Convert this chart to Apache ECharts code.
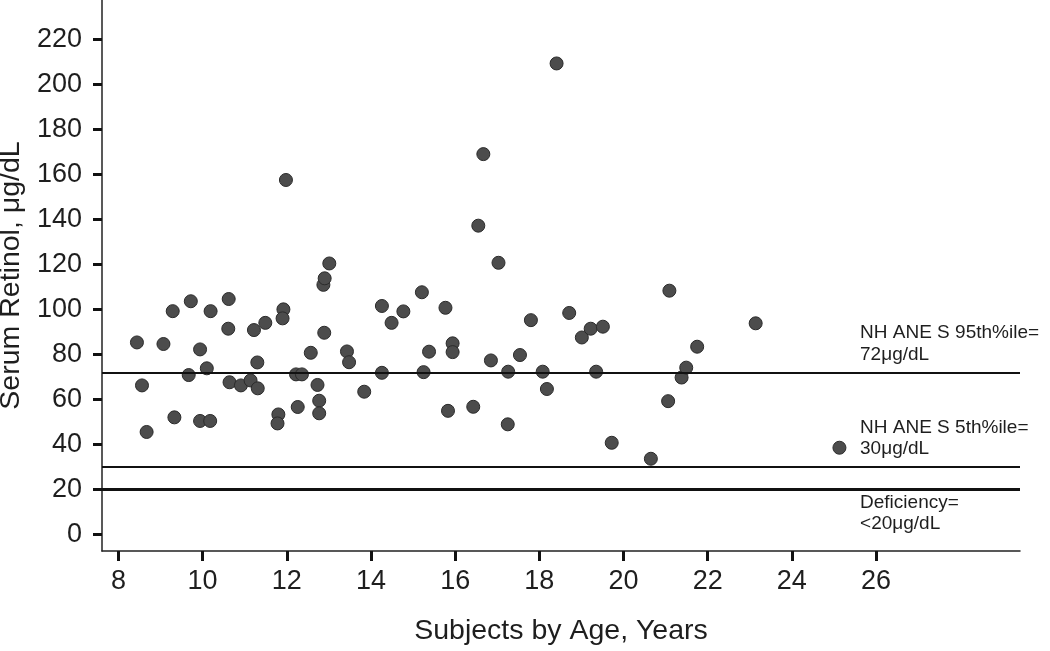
<!DOCTYPE html>
<html>
<head>
<meta charset="utf-8">
<script src="https://cdn.jsdelivr.net/npm/echarts@6/dist/echarts.min.js"></script>
<style>
html,body{margin:0;padding:0;background:#fff;}
#c{width:1050px;height:651px;}
</style>
</head>
<body>
<div id="c"></div>
<script>
// ---- data ----
const ages = [8.44,8.56,8.67,9.07,9.29,9.33,9.72,9.67,9.94,9.94,10.10,10.19,10.18,10.62,10.61,10.64,10.91,11.14,11.22,11.30,11.31,11.49,11.80,11.78,11.92,11.90,11.98,12.26,12.22,12.36,12.57,12.73,12.77,12.77,12.89,12.87,12.90,13.01,13.43,13.48,13.84,14.26,14.26,14.49,14.77,15.21,15.25,15.38,15.77,15.83,15.94,15.94,16.43,16.55,16.67,16.85,17.03,17.25,17.26,17.54,17.80,18.08,18.18,18.41,18.71,19.01,19.22,19.35,19.51,19.72,20.65,21.06,21.09,21.38,21.49,21.75,23.14,25.13];
const retinol = [85.3,66.2,45.5,84.6,99.2,52.0,103.6,70.8,82.2,50.4,73.8,99.2,50.4,104.6,91.4,67.6,66.2,68.4,90.8,76.4,64.9,94.0,53.3,49.3,100.0,96.0,157.5,56.6,71.1,71.1,80.7,66.4,59.4,53.8,89.6,110.9,113.8,120.4,81.3,76.5,63.4,101.5,71.8,94.0,99.1,107.6,72.1,81.2,100.7,54.9,84.9,81.0,56.7,137.2,169.0,77.3,120.7,48.9,72.3,79.7,95.2,72.3,64.6,209.3,98.4,87.5,91.4,72.3,92.3,40.7,33.6,59.2,108.3,69.7,74.1,83.4,93.8,38.5];
const xTicks = [8,10,12,14,16,18,20,22,24,26];
const yTicks = [0,20,40,60,80,100,120,140,160,180,200,220];
const refValues = [72, 30, 20];
const refTexts = ['NH ANE S 95th%ile=\n72\u03bcg/dL', 'NH ANE S 5th%ile=\n30\u03bcg/dL', 'Deficiency=\n<20\u03bcg/dL'];
const xName = 'Subjects by Age, Years';
const yName = 'Serum Retinol, \u03bcg/dL';

const FONT = '"Liberation Sans", Arial, Helvetica, sans-serif';
const TXT = '#1e1e1e';
const chart = echarts.init(document.getElementById('c'), null, {renderer:'canvas'});
const points = ages.map((a,i)=>[a, retinol[i]]);
const lineWidths = [2, 2, 3];

chart.setOption({
  animation:false,
  backgroundColor:'#fff',
  grid:{left:102, right:30, top:0, bottom:100, containLabel:false, outerBoundsMode:'none'},
  xAxis:{
    type:'value', min:7.61, max:29.42,
    name:xName, nameLocation:'middle', nameGap:66,
    nameTextStyle:{fontFamily:FONT, fontSize:28.5, color:TXT},
    axisLine:{onZero:false, lineStyle:{color:'#222', width:1.5}},
    axisTick:{show:true, customValues:xTicks, length:10, lineStyle:{color:'#111', width:3}},
    axisLabel:{customValues:xTicks, margin:17, fontFamily:FONT, fontSize:27, color:TXT},
    splitLine:{show:false}
  },
  yAxis:{
    type:'value', min:-7.4, max:237.5,
    name:yName, nameLocation:'middle', nameGap:75, nameRotate:90,
    nameTextStyle:{fontFamily:FONT, fontSize:28.5, color:TXT},
    axisLine:{show:true, onZero:false, lineStyle:{color:'#222', width:1.5}},
    axisTick:{show:true, customValues:yTicks, length:9, lineStyle:{color:'#111', width:3}},
    axisLabel:{customValues:yTicks, margin:20, fontFamily:FONT, fontSize:27, color:TXT},
    splitLine:{show:false}
  },
  series:[
    {
      type:'line', data:[], silent:true,
      markLine:{
        silent:true, symbol:'none', label:{show:false},
        data: refValues.map((v,i)=>({yAxis:v, lineStyle:{color:'#111', width:lineWidths[i], type:'solid'}}))
      },
      z:1
    },
    {
      type:'scatter', data:points, symbol:'circle', symbolSize:13,
      itemStyle:{color:'#4c4c4c', borderColor:'#2b2b2b', borderWidth:1, opacity:1},
      z:3
    }
  ]
});

// annotation texts next to reference lines
const labelX = 25.62;
const graphics = refValues.map((v,i)=>{
  const p = chart.convertToPixel({gridIndex:0}, [labelX, v]);
  const below = (i === 2);
  return {
    type:'text', x:p[0], y: below ? p[1] + 2.5 : p[1] - 7,
    style:{text:refTexts[i], font:'19px ' + FONT, fill:TXT, lineHeight:21.5,
      textAlign:'left', textVerticalAlign: below ? 'top' : 'bottom'},
    z:10
  };
});
chart.setOption({graphic:graphics});
</script>
</body>
</html>
